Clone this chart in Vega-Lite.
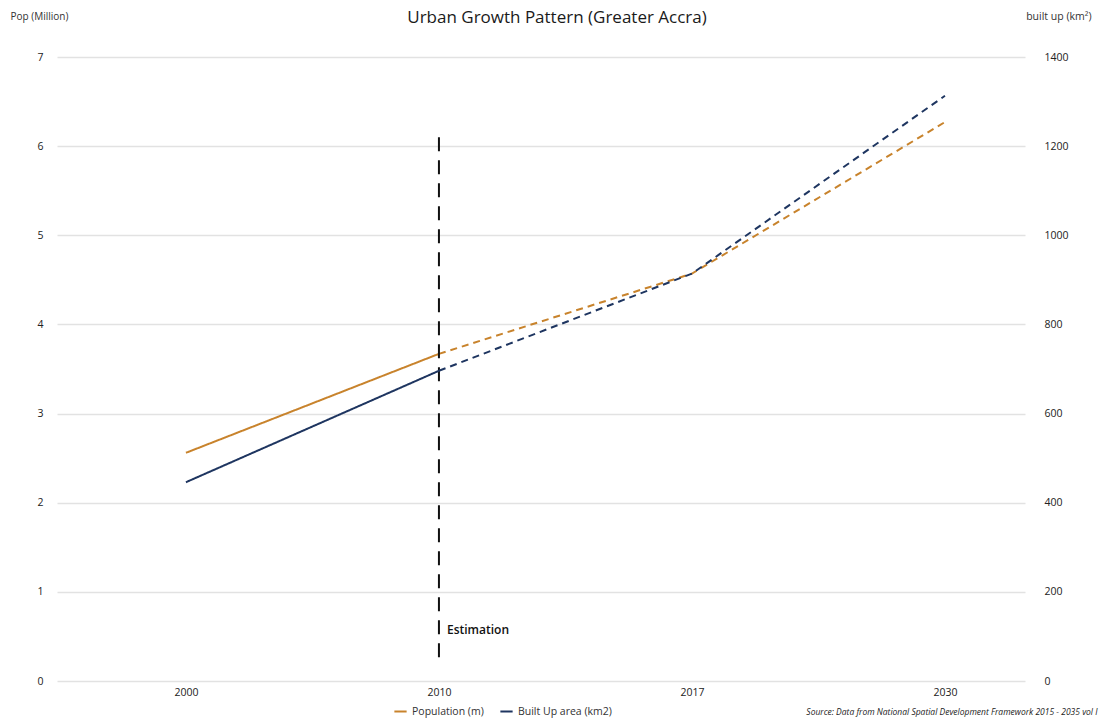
{
  "$schema": "https://vega.github.io/schema/vega-lite/v6.json",
  "autosize": {"type": "none"},
  "width": 968,
  "height": 624,
  "padding": {"left": 57, "top": 57, "right": 74, "bottom": 43},
  "background": "white",
  "config": {
    "font": "Open Sans",
    "view": {"stroke": null},
    "axis": {"labelColor": "#222", "titleColor": "#333", "labelFontSize": 10.5, "domain": false, "ticks": false}
  },
  "title": {
    "text": "Urban Growth Pattern (Greater Accra)",
    "fontSize": 17,
    "fontWeight": 500,
    "color": "#1a1a1a",
    "anchor": "middle",
    "offset": -16,
    "dx": 16
  },
  "datasets": {
    "series": [
      {"year": "2000", "pop": 2.56, "built": 446, "phase": "actual"},
      {"year": "2010", "pop": 3.67, "built": 696, "phase": "actual"},
      {"year": "2010", "pop": 3.67, "built": 696, "phase": "estimate"},
      {"year": "2017", "pop": 4.57, "built": 914, "phase": "estimate"},
      {"year": "2030", "pop": 6.27, "built": 1313, "phase": "estimate"}
    ],
    "marker": [
      {"year": "2010", "top": 6.1, "bottom": 0.18, "labelPos": 0.57, "label": "Estimation"}
    ]
  },
  "encoding": {
    "x": {
      "field": "year",
      "type": "ordinal",
      "scale": {"type": "point", "padding": 0.413, "align": 0.617},
      "axis": {
        "labelAngle": 0,
        "labelPadding": 6,
        "grid": false,
        "title": "Source: Data from National Spatial Development Framework 2015 - 2035 vol I",
        "titleFontSize": 8.5,
        "titleFontStyle": "italic",
        "titleFontWeight": "normal",
        "titleColor": "#222",
        "titleAlign": "right",
        "titleAnchor": null,
        "titleBaseline": "middle",
        "titleX": 1040,
        "titleY": 30
      }
    }
  },
  "layer": [
    {
      "layer": [
        {
          "data": {"name": "series"},
          "mark": {"type": "line", "strokeWidth": 2},
          "encoding": {
            "y": {
              "field": "pop",
              "type": "quantitative",
              "scale": {"domain": [0, 7]},
              "axis": {
                "orient": "left",
                "values": [0, 1, 2, 3, 4, 5, 6, 7],
                "format": "d",
                "grid": true,
                "gridColor": "#e2e2e2",
                "gridWidth": 1.5,
                "labelPadding": 14,
                "title": "Pop (Million)",
                "titleAngle": 0,
                "titleAlign": "left",
                "titleBaseline": "middle",
                "titleFontSize": 10,
                "titleFontWeight": "normal",
                "titleX": -47,
                "titleY": -41
              }
            },
            "color": {
              "datum": "Population (m)",
              "type": "nominal",
              "scale": {"domain": ["Population (m)", "Built Up area (km2)"], "range": ["#c8832c", "#1e3560"]},
              "legend": {
                "orient": "none",
                "direction": "horizontal",
                "legendX": 336,
                "legendY": 647,
                "title": null,
                "symbolType": "stroke",
                "symbolStrokeWidth": 2,
                "symbolSize": 150,
                "labelFontSize": 10.5,
                "labelColor": "#333",
                "columnPadding": 12
              }
            },
            "strokeDash": {
              "field": "phase",
              "type": "nominal",
              "scale": {"domain": ["actual", "estimate"], "range": [[1, 0], [7, 5]]},
              "legend": null
            }
          }
        },
        {
          "data": {"name": "marker"},
          "mark": {"type": "rule", "color": "#111", "strokeWidth": 2, "strokeDash": [14, 9]},
          "encoding": {
            "y": {"field": "top", "type": "quantitative", "title": "Pop (Million)"},
            "y2": {"field": "bottom"}
          }
        },
        {
          "data": {"name": "marker"},
          "mark": {"type": "text", "align": "left", "baseline": "middle", "dx": 8, "fontSize": 12, "fontWeight": 600, "color": "#111"},
          "encoding": {
            "y": {"field": "labelPos", "type": "quantitative", "title": "Pop (Million)"},
            "text": {"field": "label"}
          }
        }
      ]
    },
    {
      "data": {"name": "series"},
      "mark": {"type": "line", "strokeWidth": 2},
      "encoding": {
        "y": {
          "field": "built",
          "type": "quantitative",
          "scale": {"domain": [0, 1400]},
          "axis": {
            "orient": "right",
            "values": [0, 200, 400, 600, 800, 1000, 1200, 1400],
            "format": "d",
            "grid": false,
            "labelAlign": "left",
            "labelPadding": 19,
            "title": "built up (km²)",
            "titleAngle": 0,
            "titleAlign": "right",
            "titleBaseline": "middle",
            "titleFontSize": 10.5,
            "titleFontWeight": "normal",
            "titleX": 66,
            "titleY": -41
          }
        },
        "color": {"datum": "Built Up area (km2)", "type": "nominal"},
        "strokeDash": {"field": "phase", "type": "nominal", "legend": null}
      }
    }
  ],
  "resolve": {"scale": {"y": "independent"}}
}
